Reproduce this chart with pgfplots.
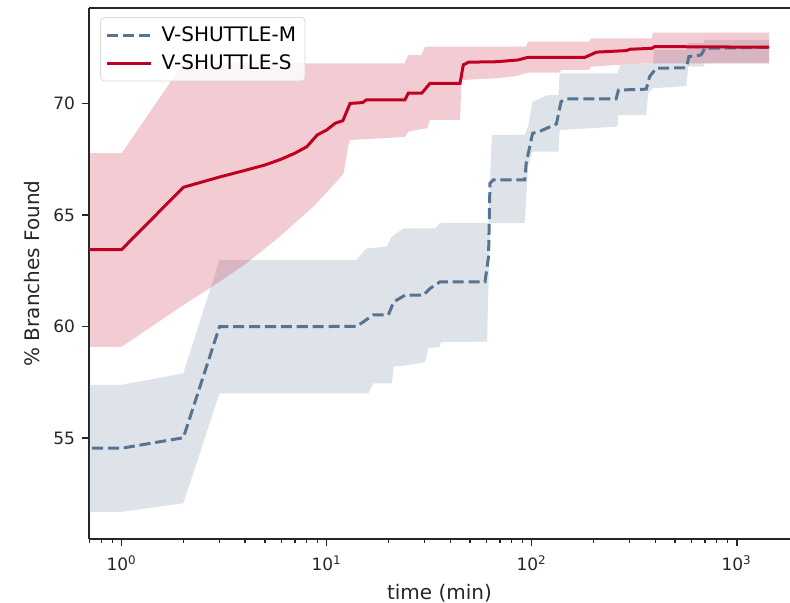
\documentclass[border=0pt]{standalone}
\usepackage{fontspec}
\setmainfont{DejaVu Sans}
\usepackage{pgfplots}
\pgfplotsset{compat=1.18}
\usepgfplotslibrary{fillbetween}
\definecolor{sred}{RGB}{192,0,32}
\definecolor{mblue}{RGB}{86,115,146}
\begin{document}
\begin{tikzpicture}
\begin{axis}[
  scale only axis, width=350.5pt, height=265.5pt,
  xmode=log, xmin=0.693, xmax=1820, ymin=50.47, ymax=74.28,
  axis x line*=box, axis y line*=left,
  axis line style={-, line width=0.8pt, black!85},
  tick pos=left, tick align=outside,
  xtick={1,10,100,1000},
  xticklabels={10\textsuperscript{0},10\textsuperscript{1},10\textsuperscript{2},10\textsuperscript{3}},
  minor xtick={0.7,0.8,0.9,2,3,4,5,6,7,8,9,20,30,40,50,60,70,80,90,200,300,400,500,600,700,800,900},
  ytick={55,60,65,70},
  major tick length=3.5pt, minor tick length=2pt,
  every tick/.style={black!85, line width=0.8pt},
  minor tick style={line width=0.6pt},
  /pgf/number format/assume math mode=true,
  ticklabel style={font=\fontsize{8.5}{10}\selectfont, text=black!85},
  xticklabel style={yshift=-1.5pt},
  xlabel={time (min)}, ylabel={\% Branches Found},
  label style={font=\fontsize{10}{12}\selectfont, text=black!85},
  legend style={at={(0.016,0.983)}, anchor=north west, draw=black!15, rounded corners=2pt,
    fill=white, fill opacity=0.8, text opacity=1, font=\fontsize{10}{12}\selectfont,
    inner sep=2.5pt, row sep=1pt},
  legend cell align=left,
  legend image code/.code={\draw[#1] (0pt,0pt) -- (22pt,0pt); \path (24.5pt,0pt);},
]
\coordinate (sw) at (rel axis cs:0,0);
\coordinate (ne) at (rel axis cs:1,1);
% V-SHUTTLE-M band
\addplot[name path=Mu, draw=none, forget plot] coordinates {
(0.6,57.38)(1,57.38)(2,57.9)(3,62.98)(14,62.98)(15.6,63.5)(19.6,63.58)(20.8,64.03)(23.7,64.4)(34,64.4)(35.7,64.65)(61.6,64.65)(63.9,68.59)(92.6,68.59)(96,68.96)(101,70.08)(121,70.38)(135,70.38)(137,71.35)(262,71.35)(271,71.73)(392,71.8)(395,72.4)(568,72.4)(580,72.7)(690,72.7)(700,72.85)(1440,72.85)};
\addplot[name path=Ml, draw=none, forget plot] coordinates {
(0.6,51.69)(1,51.69)(2,52.07)(3,57.0)(16,57.0)(16.9,57.45)(20.8,57.45)(21.2,58.2)(24.1,58.25)(30.2,58.4)(31.3,59.02)(35.7,59.09)(36,59.3)(60.6,59.32)(62.6,64.63)(92.6,64.63)(96,67.17)(101,67.84)(135,67.84)(137,68.81)(262,68.96)(265,69.48)(362,69.48)(370,70.46)(390,70.68)(568,70.78)(580,71.65)(690,71.65)(700,71.8)(1440,71.8)};
\addplot[fill=mblue, fill opacity=0.2, draw=none, forget plot] fill between[of=Mu and Ml];
% V-SHUTTLE-S band
\addplot[name path=Su, draw=none, forget plot] coordinates {
(0.6,67.77)(1,67.77)(2,71.8)(24,71.8)(25,72.17)(29,72.17)(30.2,72.55)(94,72.55)(96,72.77)(190,72.77)(195,72.92)(385,72.92)(390,73.18)(1440,73.18)};
\addplot[name path=Sl, draw=none, forget plot] coordinates {
(0.6,59.09)(1,59.09)(2,60.96)(3,62.0)(4.06,62.83)(5.9,64.03)(8.6,65.37)(11.2,66.5)(12.1,66.87)(12.8,68.2)(13,68.36)(24.1,68.5)(25,68.74)(31,68.89)(31.9,69.26)(44.7,69.26)(45.5,71.05)(67.5,71.13)(84,71.23)(96,71.38)(137,71.38)(139,71.5)(190,71.5)(195,71.65)(265,71.73)(362,71.8)(1440,71.8)};
\addplot[fill=sred, fill opacity=0.2, draw=none, forget plot] fill between[of=Su and Sl];
% lines
\addplot[mblue, line width=1.5pt, dash pattern=on 5.55pt off 2.4pt] coordinates {
(0.6,54.54)(1,54.54)(2,55.01)(3,59.99)(14,60.0)(16.9,60.52)(20,60.52)(21.2,61.1)(24.1,61.4)(29.6,61.4)(31.9,61.7)(35.7,62.0)(59.2,62.0)(61.6,63.13)(62.6,66.42)(65,66.57)(92.6,66.57)(94,67.32)(101,68.66)(109,68.74)(132,69.08)(139,70.08)(147,70.2)(258,70.2)(265,70.6)(362,70.64)(376,71.2)(405,71.58)(568,71.6)(585,72.1)(670,72.17)(700,72.47)(1440,72.52)};
\addlegendentry{V-SHUTTLE-M}
\addplot[sred, line width=1.5pt] coordinates {
(0.6,63.45)(1,63.45)(2,66.24)(3,66.7)(4,67.0)(5,67.24)(6,67.5)(7,67.77)(8,68.06)(9,68.59)(10,68.81)(11,69.11)(12,69.23)(13,70.0)(15,70.04)(15.6,70.16)(24.1,70.16)(25,70.46)(29.1,70.46)(31.9,70.9)(44.7,70.9)(46.4,71.73)(49.2,71.85)(67.5,71.87)(86,71.95)(96,72.07)(182,72.07)(207,72.3)(290,72.37)(302,72.43)(385,72.47)(399,72.55)(1440,72.52)};
\addlegendentry{V-SHUTTLE-S}
\end{axis}
\pgfresetboundingbox
\useasboundingbox ([xshift=-44.5pt,yshift=-32pt]sw) rectangle ([yshift=4pt]ne);
\end{tikzpicture}
\end{document}
